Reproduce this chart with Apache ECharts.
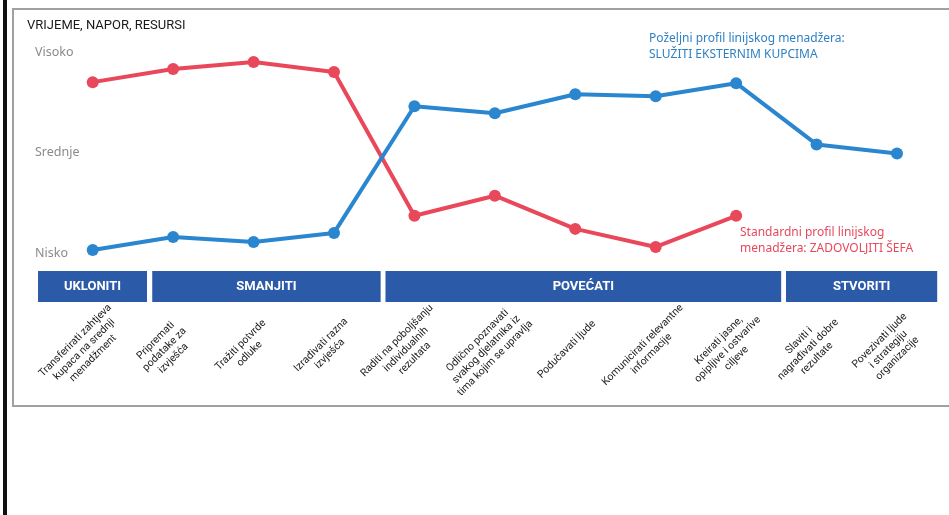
<!DOCTYPE html>
<html>
<head>
<meta charset="utf-8">
<script src="https://cdn.jsdelivr.net/npm/echarts@6/dist/echarts.min.js"></script>
<style>
html,body{margin:0;padding:0;background:#fff;}
#chart{width:949px;height:515px;}
</style>
</head>
<body>
<div id="chart"></div>
<script>
// ---- data ----
const categories = [
  'Transferirati zahtjeva\nkupaca na srednji\nmenadžment',
  'Pripremati\npodatake za\nizvješća',
  'Tražiti potvrde\nodluke',
  'Izrađivati razna\nizvješća',
  'Raditi na poboljšanju\nindividualnih\nrezultata',
  'Odlično poznavati\nsvakog djelatnika iz\ntima kojim se upravlja',
  'Podučavati ljude',
  'Komunicirati relevantne\ninformacije',
  'Kreirati jasne,\nopipljive i ostvarive\nciljeve',
  'Slaviti i\nnagrađivati dobre\nrezultate',
  'Povezivati ljude\ni strategiju\norganizacije'
];
const standardProfile = [8.5, 9.15, 9.5, 9.0, 1.85, 2.85, 1.2, 0.3, 1.85, null, null];
const desiredProfile  = [0.15, 0.8, 0.55, 1.0, 7.3, 6.95, 7.9, 7.8, 8.45, 5.4, 4.95];
const levelValues = [0, 5, 10];
const levelNames  = ['Nisko', 'Srednje', 'Visoko'];
const groupNames = ['UKLONITI', 'SMANJITI', 'POVEĆATI', 'STVORITI'];
const groupStart = [-0.68, 0.74, 3.64, 8.62];
const groupEnd   = [0.675, 3.58, 8.56, 10.5];
const titleText = 'VRIJEME, NAPOR, RESURSI';
const desiredNote = 'Poželjni profil linijskog menadžera:\nSLUŽITI EKSTERNIM KUPCIMA';
const standardNote = 'Standardni profil linijskog\nmenadžera: ZADOVOLJITI ŠEFA';

// ---- chart ----
const RED = '#e9485b', BLUE = '#2a87cf', BOX = '#2b5ba8';
const NARROW = 'Roboto, "Liberation Sans", sans-serif';
const gridLeft = 52.5, gridRight = 11.8;
const chart = echarts.init(document.getElementById('chart'), null, {renderer: 'canvas'});
const groupData = groupNames.map((n, i) => [groupStart[i], groupEnd[i]]);

chart.setOption({
  animation: false,
  backgroundColor: '#fff',
  title: {
    text: titleText, left: 27, top: 19, padding: 0,
    textStyle: {fontFamily: NARROW, fontSize: 13, fontWeight: 'normal', color: '#1a1a1a'}
  },
  grid: [
    {left: gridLeft, right: gridRight, top: 52, height: 201},
    {left: gridLeft, right: gridRight, top: 271, height: 31}
  ],
  xAxis: [
    {
      type: 'category', gridIndex: 0, data: categories, boundaryGap: true,
      axisLine: {show: false}, axisTick: {show: false},
      axisLabel: {
        interval: 0, rotate: 45, margin: 88, align: 'center', verticalAlign: 'middle',
        padding: [0, 24, 0, 0],
        fontFamily: NARROW, fontSize: 10.5, lineHeight: 12.5, color: '#222'
      }
    },
    {type: 'value', gridIndex: 1, min: -0.5, max: 10.5, show: false}
  ],
  yAxis: [
    {
      type: 'value', gridIndex: 0, min: 0, max: 10, interval: 5,
      axisLine: {show: false}, axisTick: {show: false}, splitLine: {show: false},
      axisLabel: {
        align: 'left', margin: 17.5, color: '#8a8a8a', fontFamily: 'Noto Sans', fontSize: 12.5,
        formatter: v => { const i = levelValues.indexOf(v); return i >= 0 ? levelNames[i] : ''; }
      }
    },
    {type: 'value', gridIndex: 1, min: 0, max: 1, show: false}
  ],
  series: [
    {
      type: 'line', name: 'Standardni', xAxisIndex: 0, yAxisIndex: 0,
      data: standardProfile, symbol: 'circle', symbolSize: 12,
      lineStyle: {color: RED, width: 4}, itemStyle: {color: RED}, z: 3
    },
    {
      type: 'line', name: 'Poželjni', xAxisIndex: 0, yAxisIndex: 0,
      data: desiredProfile, symbol: 'circle', symbolSize: 12,
      lineStyle: {color: BLUE, width: 4}, itemStyle: {color: BLUE}, z: 4
    },
    {
      type: 'custom', xAxisIndex: 1, yAxisIndex: 1, data: groupData,
      renderItem: function (params, api) {
        const p0 = api.coord([api.value(0), 1]);
        const p1 = api.coord([api.value(1), 0]);
        return {
          type: 'group',
          children: [
            {type: 'rect', shape: {x: p0[0], y: p0[1], width: p1[0] - p0[0], height: p1[1] - p0[1]},
             style: {fill: BOX}},
            {type: 'text', style: {
              text: groupNames[params.dataIndex], x: (p0[0] + p1[0]) / 2, y: (p0[1] + p1[1]) / 2,
              align: 'center', verticalAlign: 'middle', fill: '#fff',
              font: 'bold 13px Roboto, "Liberation Sans", sans-serif'
            }}
          ]
        };
      }
    }
  ],
  graphic: [
    {type: 'rect', shape: {x: 3, y: 0, width: 4, height: 515}, style: {fill: '#111'}, silent: true},
    {type: 'rect', shape: {x: 13, y: 9, width: 950, height: 397}, style: {fill: 'none', stroke: '#a0a0a0', lineWidth: 2}, silent: true},
    {type: 'text', left: 649, top: 31, style: {text: desiredNote, fill: '#2f80c4', font: '12px "Noto Sans"', lineHeight: 16}},
    {type: 'text', left: 740, top: 225, style: {text: standardNote, fill: RED, font: '12px "Noto Sans"', lineHeight: 16}}
  ]
});
</script>
</body>
</html>
